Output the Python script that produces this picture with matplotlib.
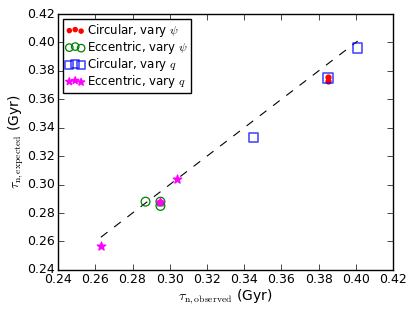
import numpy as np
import matplotlib
matplotlib.use('Agg')
import matplotlib.pyplot as plt

plt.style.use('classic')
plt.rcParams['mathtext.fontset'] = 'cm'

# observed vs expected (Gyr)
circ_psi_obs = [0.385, 0.385, 0.295]
circ_psi_exp = [0.373, 0.376, 0.288]
ecc_psi_obs = [0.287, 0.295, 0.295]
ecc_psi_exp = [0.288, 0.288, 0.285]
circ_q_obs = [0.345, 0.385, 0.401]
circ_q_exp = [0.333, 0.375, 0.396]
ecc_q_obs = [0.263, 0.295, 0.304]
ecc_q_exp = [0.257, 0.288, 0.304]

allobs = circ_psi_obs + ecc_psi_obs + circ_q_obs + ecc_q_obs
line = [min(allobs), max(allobs)]

fig = plt.figure(figsize=(4.15, 3.12), dpi=100)
fig.patch.set_facecolor('white')
ax = fig.add_axes([0.14, 0.135, 0.807, 0.82])

ax.plot(line, line, 'k--', lw=0.8)
ax.scatter(circ_psi_obs, circ_psi_exp, s=12, c='r', edgecolors='r', label=r'Circular, vary $\psi$', zorder=3)
ax.scatter(ecc_psi_obs, ecc_psi_exp, s=40, facecolors='none', edgecolors='g', linewidths=0.9, label=r'Eccentric, vary $\psi$', zorder=3)
ax.scatter(circ_q_obs, circ_q_exp, s=45, marker='s', facecolors='none', edgecolors='b', alpha=0.7, linewidths=1.2, label=r'Circular, vary $q$', zorder=3)
ax.scatter(ecc_q_obs, ecc_q_exp, s=40, marker='*', c='magenta', edgecolors='magenta', label=r'Eccentric, vary $q$', zorder=4)

ax.set_xlim(0.24, 0.42)
ax.set_ylim(0.24, 0.42)
ax.set_xticks(np.arange(0.24, 0.421, 0.02))
ax.set_yticks(np.arange(0.24, 0.421, 0.02))
ax.tick_params(labelsize=9, pad=2)
ax.set_xlabel(r'$\tau_{\rm n,observed}$ (Gyr)', fontsize=10, labelpad=1)
ax.set_ylabel(r'$\tau_{\rm n,expected}$ (Gyr)', fontsize=10, labelpad=1)
ax.legend(loc='upper left', fontsize=8.5, scatterpoints=3, handletextpad=0.2, handlelength=1.6,
          borderpad=0.25, labelspacing=0.0, markerscale=0.85, borderaxespad=0.4)

fig.savefig('out.png', dpi=100, facecolor='white')
